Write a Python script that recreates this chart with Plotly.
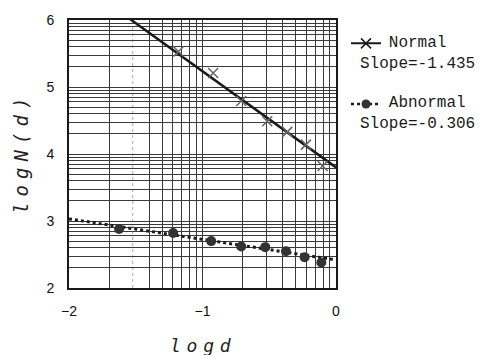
import numpy as np
import plotly.graph_objects as go

# ---- data ----
normal_x = [-1.18, -0.92, -0.71, -0.515, -0.365, -0.225, -0.10]
normal_y = [5.53, 5.21, 4.79, 4.49, 4.33, 4.14, 3.82]
abnormal_x = [-1.625, -1.22, -0.935, -0.71, -0.53, -0.375, -0.235, -0.11]
abnormal_y = [2.88, 2.82, 2.70, 2.62, 2.61, 2.55, 2.46, 2.38]
normal_fit = {"slope": -1.435, "intercept": 3.80}
abnormal_fit = {"slope": -0.306, "intercept": 2.42}
x_ticks = [-2, -1, 0]
y_ticks = [2, 3, 4, 5, 6]
series_names = ["Normal", "Abnormal"]
slope_labels = ["Slope=-1.435", "Slope=-0.306"]

# log-paper style grid positions
sub = [np.log10(k) for k in range(2, 10)]
x_minor = [d + s for d in x_ticks[:-1] for s in sub]
faint_x = [x_ticks[0] + np.log10(3)]
x_minor = [v for v in x_minor if abs(v - faint_x[0]) > 1e-9]
y_minor = [d + s for d in y_ticks[:-1] for s in sub]

fit_x = np.linspace(x_ticks[0], x_ticks[-1], 50)

INK = "#1a1a1a"
GRID = "#3a3a3a"
mono = "Courier New, Nimbus Mono PS, FreeMono, Liberation Mono, monospace"

fig = go.Figure()

# fitted lines
fig.add_trace(go.Scatter(x=fit_x, y=normal_fit["intercept"] + normal_fit["slope"] * fit_x,
                         mode="lines", line=dict(color=INK, width=2.5), showlegend=False))
fig.add_trace(go.Scatter(x=fit_x, y=abnormal_fit["intercept"] + abnormal_fit["slope"] * fit_x,
                         mode="lines", line=dict(color=INK, width=3, dash="dot"), showlegend=False))
# points
fig.add_trace(go.Scatter(x=normal_x, y=normal_y, mode="markers",
                         marker=dict(symbol="x-thin", size=10, line=dict(color="#666", width=1.5)),
                         showlegend=False))
fig.add_trace(go.Scatter(x=abnormal_x, y=abnormal_y, mode="markers",
                         marker=dict(symbol="circle", size=10, color="#333"),
                         showlegend=False))
# legend symbols (text is written as annotations below)
fig.add_trace(go.Scatter(x=[None], y=[None], mode="lines+markers", name="",
                         line=dict(color=INK, width=2),
                         marker=dict(symbol="x-thin", size=10, line=dict(color=INK, width=1.5)),
                         legend="legend"))
fig.add_trace(go.Scatter(x=[None], y=[None], mode="lines+markers", name="",
                         line=dict(color=INK, width=2.5, dash="dot"),
                         marker=dict(symbol="circle", size=9, color="#333"),
                         legend="legend2"))

# faint dotted grid line
for v in faint_x:
    fig.add_shape(type="line", xref="x", yref="paper", x0=v, x1=v, y0=0, y1=1,
                  line=dict(color="#aaa", width=1, dash="dot"), layer="below")

tickfont = dict(family="Liberation Sans, Arial, sans-serif", size=14, color="#111")
fig.update_xaxes(range=[x_ticks[0], x_ticks[-1]], tickmode="array", tickvals=x_ticks,
                 showgrid=True, gridcolor=GRID, gridwidth=1,
                 minor=dict(tickmode="array", tickvals=x_minor, showgrid=True, gridcolor=GRID, gridwidth=1),
                 showline=True, linecolor=INK, linewidth=2, mirror=True,
                 zeroline=False, ticks="", ticklabelstandoff=9, tickfont=tickfont)
fig.update_yaxes(range=[y_ticks[0], y_ticks[-1]], tickmode="array", tickvals=y_ticks,
                 showgrid=True, gridcolor=GRID, gridwidth=1,
                 minor=dict(tickmode="array", tickvals=y_minor, showgrid=True, gridcolor=GRID, gridwidth=1),
                 showline=True, linecolor=INK, linewidth=2, mirror=True,
                 zeroline=False, ticks="", ticklabelstandoff=10, tickfont=tickfont)

L, R, T, B = 69, 149, 14, 67
W, H = 485, 355
pw, ph = W - L - R, H - T - B

def px2x(px):
    return (px - L) / pw

def py2y(py):
    return (H - B - py) / ph

legfont = dict(family=mono, size=16, color=INK)
fig.update_layout(
    width=W, height=H, margin=dict(l=L, r=R, t=T, b=B),
    paper_bgcolor="white", plot_bgcolor="white",
    legend=dict(x=px2x(346), y=py2y(38), xanchor="left", yanchor="middle",
                font=legfont, bgcolor="rgba(0,0,0,0)", borderwidth=0),
    legend2=dict(x=px2x(346), y=py2y(100), xanchor="left", yanchor="middle",
                 font=legfont, bgcolor="rgba(0,0,0,0)", borderwidth=0),
)

sp = '<span style="font-family:DejaVu Sans"> </span>'
fig.add_annotation(text="<i>" + sp.join("logd") + "</i>", xref="paper", yref="paper",
                   x=px2x(201), y=py2y(347), showarrow=False,
                   font=dict(family="DejaVu Sans Mono, monospace", size=18, color="#222"),
                   xanchor="center", yanchor="middle")
fig.add_annotation(text="<i>" + sp.join("logN(d)") + "</i>", xref="paper", yref="paper",
                   x=px2x(21), y=py2y(153), showarrow=False,
                   font=dict(family="DejaVu Sans Mono, monospace", size=19, color="#222"),
                   textangle=-90, xanchor="center", yanchor="middle")
indent = "&nbsp;" * 3
for name, lab, yy in zip(series_names, slope_labels, [48, 110]):
    fig.add_annotation(text=indent + name + "<br>" + lab, xref="paper", yref="paper",
                       x=px2x(358), y=py2y(yy), showarrow=False, font=legfont,
                       align="left", xanchor="left", yanchor="middle")

fig.write_html("out.html")
